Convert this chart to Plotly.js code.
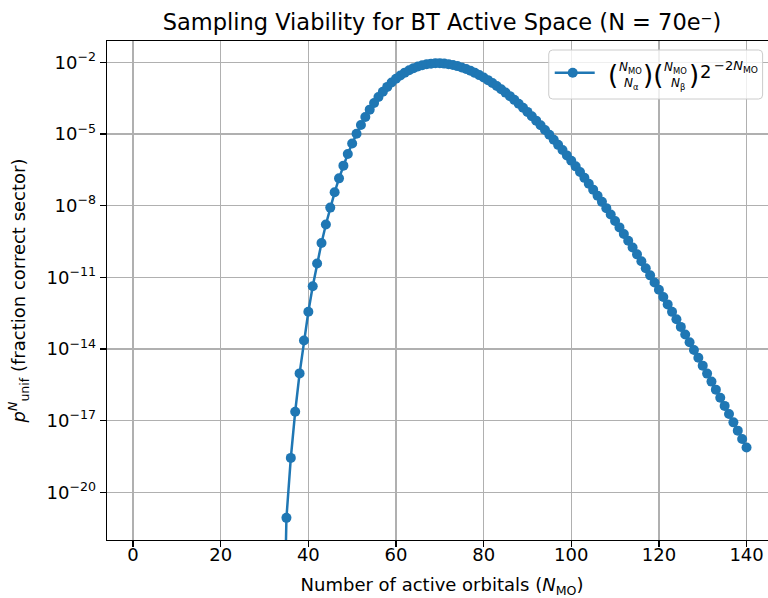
<!DOCTYPE html>
<html>
<head>
<meta charset="utf-8">
<script src="https://cdn.plot.ly/plotly-3.0.1.min.js"></script>
<style>
html,body{margin:0;padding:0;overflow:hidden;background:#fff;}
#chart{width:800px;height:598px;}
</style>
</head>
<body>
<div id="chart"></div>
<script>
// Number of active orbitals (N_MO); N=34 has p = 0 (drawn clipped far below the axis)
const nMO = [34,35,36,37,38,39,40,41,42,43,44,45,46,47,48,49,50,51,52,53,54,55,56,57,58,59,60,
  61,62,63,64,65,66,67,68,69,70,71,72,73,74,75,76,77,78,79,80,81,82,83,84,85,86,87,88,89,90,
  91,92,93,94,95,96,97,98,99,100,101,102,103,104,105,106,107,108,109,110,111,112,113,114,115,
  116,117,118,119,120,121,122,123,124,125,126,127,128,129,130,131,132,133,134,135,136,137,138,139,140];

// Fraction in the correct sector, p_unif^N
const pUnif = [1e-30,
  8.47e-22,2.74e-19,2.35e-17,9.42e-16,2.24e-14,3.58e-13,4.18e-12,3.76e-11,2.72e-10,1.62e-9,
  8.22e-9,3.59e-8,1.38e-7,4.70e-7,1.44e-6,4.00e-6,1.015e-5,2.37e-5,5.15e-5,1.04e-4,
  1.97e-4,3.49e-4,5.86e-4,9.32e-4,1.41e-3,2.03e-3,2.79e-3,3.68e-3,4.65e-3,5.66e-3,
  6.65e-3,7.53e-3,8.25e-3,8.76e-3,9.02e-3,9.02e-3,8.77e-3,8.31e-3,7.66e-3,6.90e-3,
  6.06e-3,5.21e-3,4.38e-3,3.60e-3,2.90e-3,2.29e-3,1.78e-3,1.35e-3,1.01e-3,7.43e-4,
  5.37e-4,3.82e-4,2.67e-4,1.84e-4,1.25e-4,8.37e-5,5.52e-5,3.60e-5,2.31e-5,1.47e-5,
  9.20e-6,5.70e-6,3.49e-6,2.11e-6,1.26e-6,7.47e-7,4.38e-7,2.54e-7,1.45e-7,8.26e-8,
  4.65e-8,2.59e-8,1.43e-8,7.82e-9,4.24e-9,2.28e-9,1.22e-9,6.44e-10,3.38e-10,1.76e-10,
  9.09e-11,4.66e-11,2.37e-11,1.20e-11,6.01e-12,3.00e-12,1.48e-12,7.29e-13,3.56e-13,1.73e-13,
  8.34e-14,4.00e-14,1.90e-14,9.02e-15,4.25e-15,1.99e-15,9.25e-16,4.28e-16,1.97e-16,9.04e-17,
  4.12e-17,1.87e-17,8.42e-18,3.78e-18,1.69e-18,7.50e-19];

const xTickVals = [0,20,40,60,80,100,120,140];
const yTickVals = [1e-20,1e-17,1e-14,1e-11,1e-8,1e-5,1e-2];
const yTickText = ['10<sup>−20</sup>','10<sup>−17</sup>','10<sup>−14</sup>','10<sup>−11</sup>',
                   '10<sup>−8</sup>','10<sup>−5</sup>','10<sup>−2</sup>'];

const FONT = 'DejaVu Sans, sans-serif';
const BLUE = '#1f77b4';

// plot area in pixels (for placing the hand-built legend box)
const PL = 107, PR = 777.4, PT = 41, PB = 540;
const px2x = p => (p - PL) / (PR - PL);
const px2y = p => (PB - p) / (PB - PT);

const trace = {
  x: nMO, y: pUnif, type: 'scatter', mode: 'lines+markers',
  line: {color: BLUE, width: 2.5},
  marker: {color: BLUE, size: 10},
  showlegend: false,
  hoverinfo: 'x+y'
};

// legend box (rounded rectangle)
const lx0 = px2x(549), lx1 = px2x(763), ly0 = px2y(99), ly1 = px2y(50);
const rx = 4/(PR-PL), ry = 4/(PB-PT);
const boxPath = `M ${lx0+rx},${ly1} L ${lx1-rx},${ly1} Q ${lx1},${ly1} ${lx1},${ly1-ry} ` +
  `L ${lx1},${ly0+ry} Q ${lx1},${ly0} ${lx1-rx},${ly0} L ${lx0+rx},${ly0} Q ${lx0},${ly0} ${lx0},${ly0+ry} ` +
  `L ${lx0},${ly1-ry} Q ${lx0},${ly1} ${lx0+rx},${ly1} Z`;

const shapes = [
  {type:'path', xref:'paper', yref:'paper', path: boxPath, fillcolor:'rgba(255,255,255,0.8)',
   line:{color:'#cccccc', width:1}, layer:'above'},
  {type:'line', xref:'paper', yref:'paper', x0:px2x(555), x1:px2x(595), y0:px2y(72.7), y1:px2y(72.7),
   line:{color:BLUE, width:2.5}, layer:'above'},
  {type:'circle', xref:'paper', yref:'paper', x0:px2x(568), x1:px2x(578), y0:px2y(77.7), y1:px2y(67.7),
   fillcolor:BLUE, line:{color:BLUE, width:0}, layer:'above'}
];

function ann(text, px, py, size, extra) {
  return Object.assign({text: text, xref:'paper', yref:'paper', x: px2x(px), y: px2y(py),
    xanchor:'center', yanchor:'middle', showarrow:false,
    font:{family: FONT, size: size, color:'#000'}}, extra || {});
}

const annotations = [
  ann('(', 613, 75, 26),
  ann('<i>N</i><sub>MO</sub>', 631, 68, 12),
  ann('<i>N</i><sub>α</sub>', 632, 84, 12),
  ann(')(', 653.5, 75, 26),
  ann('<i>N</i><sub>MO</sub>', 676, 68, 12),
  ann('<i>N</i><sub>β</sub>', 678, 84, 12),
  ann(')', 694.5, 75, 26),
  ann('2', 706, 72, 18),
  ann('−2<i>N</i><sub>MO</sub>', 712, 66, 13, {xanchor:'left'})
];

const layout = {
  width: 800, height: 598,
  margin: {l: PL, r: 800 - PR, t: PT, b: 598 - PB, pad: 0},
  paper_bgcolor: '#fff', plot_bgcolor: '#fff',
  font: {family: FONT, size: 18, color: '#000'},
  title: {text: 'Sampling Viability for BT Active Space (N = 70e⁻)',
          x: 0.5, xref: 'paper', xanchor: 'center',
          y: 1 - 22/598, yref: 'container', yanchor: 'middle',
          font: {family: FONT, size: 22.5, color: '#000'}},
  xaxis: {
    range: [-5.95, 146.95], tickmode: 'array', tickvals: xTickVals,
    ticks: 'outside', ticklen: 6, tickwidth: 1.3, tickcolor: '#000',
    ticklabelstandoff: -8,
    showline: true, linecolor: '#000', linewidth: 1.3, mirror: true,
    showgrid: true, gridcolor: '#b0b0b0', gridwidth: 1.3, zeroline: false,
    tickfont: {family: FONT, size: 18, color: '#000'},
    title: {text: 'Number of active orbitals (<i>N</i><sub>MO</sub>)', standoff: 15,
            font: {family: FONT, size: 18, color: '#000'}}
  },
  yaxis: {
    type: 'log', range: [-22.0, -1.11], tickmode: 'array', tickvals: yTickVals, ticktext: yTickText,
    ticks: 'outside', ticklen: 6, tickwidth: 1.3, tickcolor: '#000',
    showline: true, linecolor: '#000', linewidth: 1.3, mirror: true,
    showgrid: true, gridcolor: '#b0b0b0', gridwidth: 1.3, zeroline: false,
    tickfont: {family: FONT, size: 18, color: '#000'},
    title: {text: '<i>p</i><sup><i>N</i></sup><sub>unif</sub> (fraction correct sector)', standoff: 16,
            font: {family: FONT, size: 18, color: '#000'}}
  },
  shapes: shapes,
  annotations: annotations,
  showlegend: false
};

Plotly.newPlot('chart', [trace], layout, {displayModeBar: false, staticPlot: true});
</script>
</body>
</html>
